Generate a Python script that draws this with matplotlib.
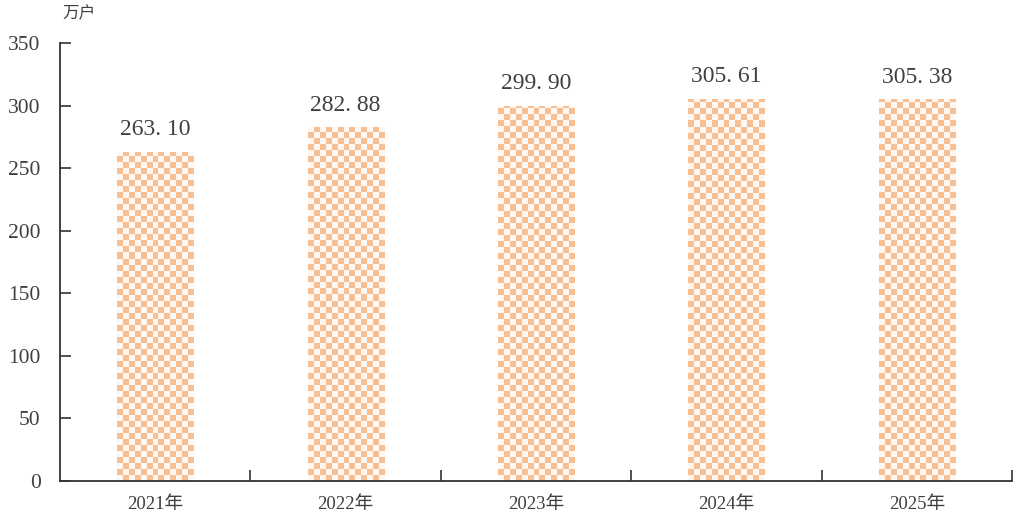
import numpy as np
import matplotlib
matplotlib.use('Agg')
import matplotlib.pyplot as plt
from matplotlib.ticker import FixedLocator

plt.rcParams['font.family'] = ['Liberation Serif', 'Noto Sans CJK SC']

years = ['2021年', '2022年', '2023年', '2024年', '2025年']
values = [263.10, 282.88, 299.90, 305.61, 305.38]
unit = '万户'

ORANGE = '#F6C094'
TEXT = '#404040'
BAR_W = 0.4

fig = plt.figure(figsize=(10.24, 5.22), dpi=100)
ax = fig.add_axes([0.0586, 0.0785, 0.9297, 0.8392])

x = np.arange(len(years))
bars = ax.bar(x, values, width=BAR_W, color='none', edgecolor='none')

ax.set_xlim(-0.5, len(years) - 0.5)
ax.set_ylim(0, 350)

# checkerboard fill, roughly 6 px squares
cell_y = 350 / 438 * 6
for b, v in zip(bars, values):
    nx = 13
    ny = int(np.ceil(v / cell_y))
    ii, jj = np.indices((ny, nx))
    checker = ((ii + jj) % 2).astype(float)
    x0 = b.get_x()
    im = ax.imshow(checker, cmap=matplotlib.colors.ListedColormap(['#FFF8F2', ORANGE]),
                   extent=[x0, x0 + BAR_W, 0, ny * cell_y], origin='lower',
                   interpolation='nearest', aspect='auto', zorder=2)
    im.set_clip_path(b)
    ax.text(b.get_x() + BAR_W / 2, v + 9, f'{v:.2f}'.replace('.', '. '),
            ha='center', va='bottom', fontsize=17, color=TEXT)

ax.set_xlim(-0.5, len(years) - 0.5)
ax.set_ylim(0, 350)

ax.set_xticks(x)
ax.set_xticklabels(years, fontsize=13.5, color=TEXT)
ax.tick_params(axis='x', which='major', length=0, pad=11)
ax.xaxis.set_minor_locator(FixedLocator(np.arange(0.5, len(years), 1)))
ax.tick_params(axis='x', which='minor', direction='in', length=8, width=1.2, color='#333333')

ax.set_yticks(np.arange(0, 351, 50))
ax.tick_params(axis='y', direction='in', length=8, width=1.2, color='#333333',
               labelsize=15.5, labelcolor=TEXT, pad=14)

for s in ['top', 'right']:
    ax.spines[s].set_visible(False)
for s in ['left', 'bottom']:
    ax.spines[s].set_linewidth(1.3)
    ax.spines[s].set_color('#333333')

fig.text(0.061, 0.972, unit, fontsize=12, color=TEXT, ha='left', va='center')

fig.savefig('out.png', dpi=100)
